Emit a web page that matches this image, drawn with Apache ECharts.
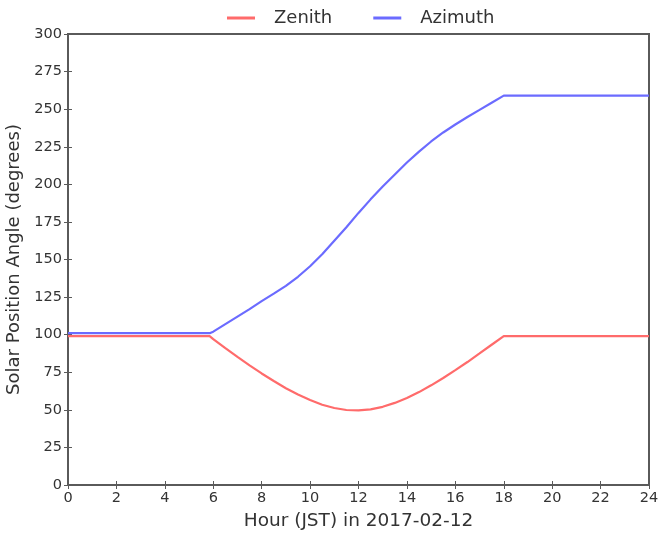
<!DOCTYPE html>
<html>
<head>
<meta charset="utf-8">
<script src="https://cdn.jsdelivr.net/npm/echarts@6/dist/echarts.min.js"></script>
<style>html,body{margin:0;padding:0;background:#fff}#c{width:658px;height:536px}</style>
</head>
<body>
<div id="c"></div>
<script>
const hours = [0, 1, 2, 3, 4, 5, 5.85, 6, 6.5, 7, 7.5, 8, 8.5, 9, 9.5, 10, 10.5, 11, 11.5, 12, 12.5, 13, 13.5, 14, 14.5, 15, 15.5, 16, 16.5, 17, 17.5, 18, 19, 20, 21, 22, 23, 24];
const zenith = [99, 99, 99, 99, 99, 99, 99, 97, 91, 85.2, 79.6, 74.2, 69.2, 64.4, 60.2, 56.5, 53.4, 51.2, 49.9, 49.6, 50.3, 52.0, 54.6, 57.9, 61.8, 66.3, 71.2, 76.4, 81.8, 87.5, 93.3, 99, 99, 99, 99, 99, 99, 99];
const azimuth = [101, 101, 101, 101, 101, 101, 101, 102, 107, 112, 117, 122.3, 127.3, 132.5, 138.5, 145.5, 153.5, 162.5, 171.5, 181, 190, 198.5, 206.5, 214.5, 221.8, 228.5, 234.5, 239.8, 244.8, 249.5, 254.3, 259, 259, 259, 259, 259, 259, 259];
const xTicks = [0, 2, 4, 6, 8, 10, 12, 14, 16, 18, 20, 22, 24];
const yTicks = [0, 25, 50, 75, 100, 125, 150, 175, 200, 225, 250, 275, 300];

const FONT = 'DejaVu Sans';
const frame = '#5a5a5a';
const txt = '#333';
const chart = echarts.init(document.getElementById('c'), null, {renderer: 'canvas'});
const pairs = arr => hours.map((h, i) => [h, arr[i]]);
const tick = {inside: true, length: 4, lineStyle: {color: frame, width: 1}};

chart.setOption({
  animation: false,
  textStyle: {fontFamily: FONT},
  legend: {
    top: 4, left: 222,
    itemWidth: 28, itemHeight: 3, itemGap: 41,
    icon: 'rect',
    textStyle: {fontFamily: FONT, fontSize: 18, color: txt, padding: [0, 0, 0, 14]},
    data: ['Zenith', 'Azimuth']
  },
  grid: {left: 68, right: 9, top: 34, bottom: 51, outerBoundsMode: 'none', containLabel: false, show: true, borderColor: frame, borderWidth: 2, backgroundColor: 'transparent'},
  xAxis: [{
    type: 'value', min: 0, max: 24, interval: 2,
    name: 'Hour (JST) in 2017-02-12', nameLocation: 'middle', nameGap: 27,
    nameTextStyle: {fontFamily: FONT, fontSize: 18.5, color: txt},
    axisLine: {show: true, lineStyle: {color: frame, width: 2}},
    axisTick: tick,
    axisLabel: {fontFamily: FONT, fontSize: 14.5, color: txt, margin: 6, formatter: v => xTicks.includes(v) ? String(v) : ''},
    splitLine: {show: false}
  }, {
    type: 'value', min: 0, max: 24, interval: 2, position: 'top',
    axisLine: {show: true, lineStyle: {color: frame, width: 2}},
    axisTick: tick,
    axisLabel: {show: false}, splitLine: {show: false}
  }],
  yAxis: [{
    type: 'value', min: 0, max: 300, interval: 25,
    name: 'Solar Position Angle (degrees)', nameLocation: 'middle', nameGap: 39, nameRotate: 90,
    nameTextStyle: {fontFamily: FONT, fontSize: 18, color: txt},
    axisLine: {show: true, lineStyle: {color: frame, width: 2}},
    axisTick: tick,
    axisLabel: {fontFamily: FONT, fontSize: 14.5, color: txt, margin: 6, formatter: v => yTicks.includes(v) ? String(v) : ''},
    splitLine: {show: false}
  }, {
    type: 'value', min: 0, max: 300, interval: 25, position: 'right',
    axisLine: {show: true, lineStyle: {color: frame, width: 2}},
    axisTick: tick,
    axisLabel: {show: false}, splitLine: {show: false}
  }],
  series: [{
    name: 'Zenith', type: 'line', data: pairs(zenith), showSymbol: false, smooth: false,
    color: '#ff6b6b', lineStyle: {width: 2.2, color: '#ff6b6b'}
  }, {
    name: 'Azimuth', type: 'line', data: pairs(azimuth), showSymbol: false, smooth: false,
    color: '#6b6bff', lineStyle: {width: 2.2, color: '#6b6bff'}
  }]
});
</script>
</body>
</html>
